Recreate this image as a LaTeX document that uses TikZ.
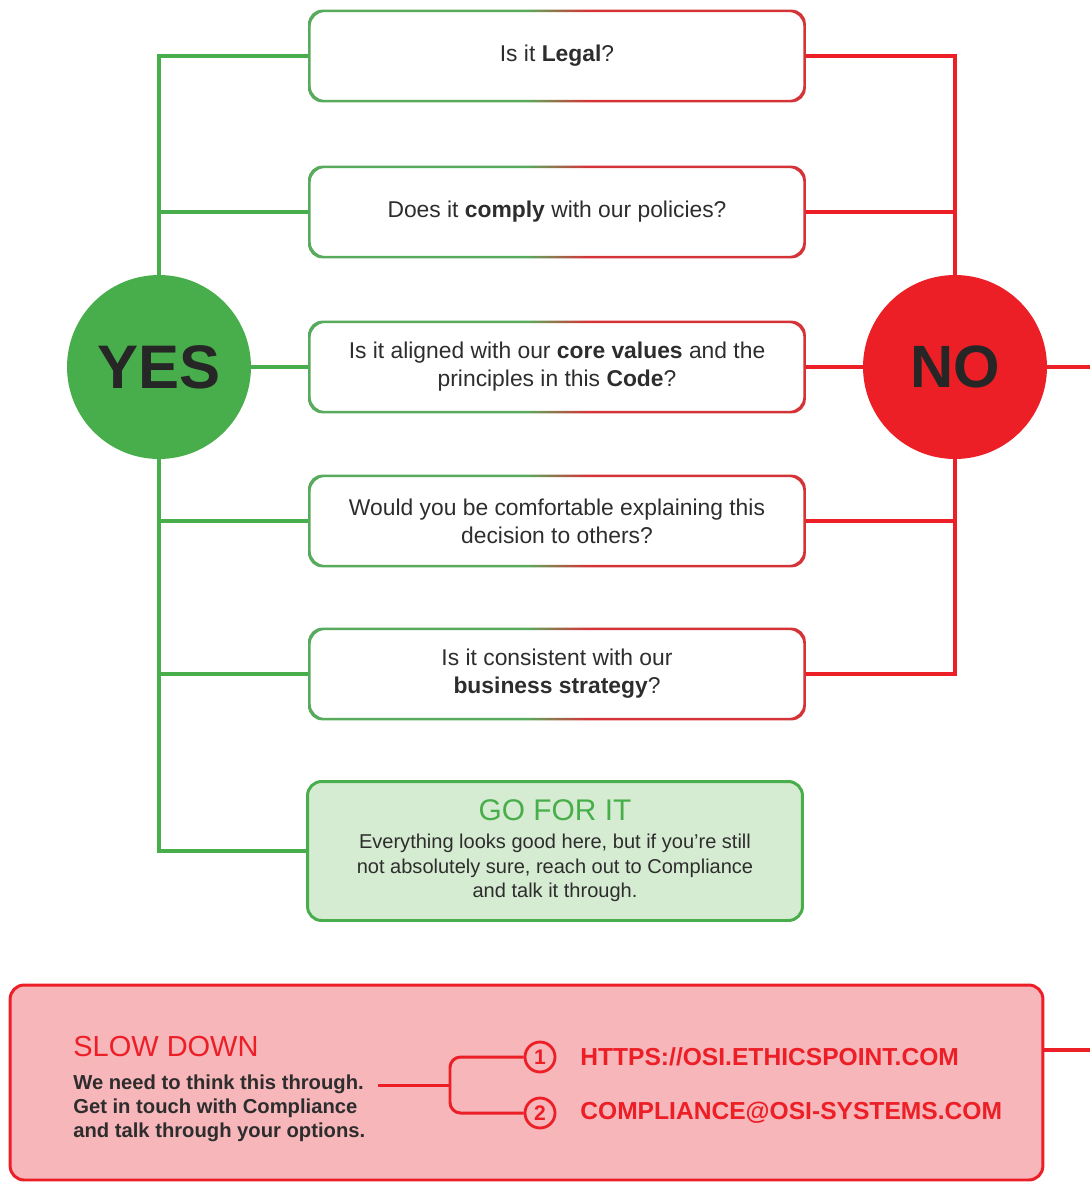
\documentclass[tikz,border=0pt]{standalone}
\usepackage{fontspec}
\setmainfont{Liberation Sans}
\usetikzlibrary{calc}
\definecolor{yesgreen}{RGB}{72,174,76}
\definecolor{nored}{RGB}{236,30,38}
\definecolor{boxgreen}{RGB}{88,170,92}
\definecolor{boxred}{RGB}{212,52,56}
\definecolor{gofill}{RGB}{214,236,210}
\definecolor{slowfill}{RGB}{246,182,186}
\definecolor{textgray}{RGB}{45,45,45}
\pgfdeclarehorizontalshading{greenred}{100bp}{color(0bp)=(boxgreen); color(47bp)=(boxgreen); color(53bp)=(boxred); color(100bp)=(boxred)}
\tikzstyle{question} = [rectangle, rounded corners=8pt, minimum width=9.94cm, minimum height=1.84cm, align=center, text=textgray, font=\fontsize{13}{15.9}\selectfont]
\tikzstyle{gobox} = [rectangle, rounded corners=8pt, minimum width=9.9cm, minimum height=2.78cm, align=center, draw=yesgreen, line width=1.7pt, fill=gofill, text=textgray, font=\fontsize{11.4}{13.9}\selectfont]
\tikzstyle{yesdot} = [circle, minimum size=3.68cm, fill=yesgreen, text=black!85, font=\fontsize{35}{35}\selectfont\bfseries]
\tikzstyle{nodot} = [circle, minimum size=3.68cm, fill=nored, text=black!85, font=\fontsize{34}{34}\selectfont\bfseries]
\tikzstyle{slowbox} = [rectangle, rounded corners=8pt, minimum width=20.66cm, minimum height=3.9cm, draw=nored, line width=1.7pt, fill=slowfill]
\tikzstyle{numdot} = [circle, minimum size=0.6cm, inner sep=0pt, draw=nored, line width=1.6pt, fill=slowfill, text=nored, font=\fontsize{12}{12}\selectfont\bfseries]
\tikzstyle{urltext} = [inner sep=0pt, text=nored, font=\fontsize{14}{14}\selectfont\bfseries]
\tikzstyle{yesline} = [yesgreen, line width=2.3pt]
\tikzstyle{noline} = [nored, line width=2.8pt]
\tikzstyle{slowline} = [nored, line width=1.7pt]
\newcommand{\gradframe}[1]{\shade[shading=greenred, even odd rule, rounded corners=8pt] (#1.south west) rectangle (#1.north east) ([shift={(1.4pt,1.4pt)}]#1.south west) rectangle ([shift={(-1.4pt,-1.4pt)}]#1.north east);}

\begin{document}
\begin{tikzpicture}[x=0.02cm, y=-0.02cm]
\useasboundingbox (0,0) rectangle (1090,1183);

% Questions
\node[question] (q1) at (557,56) {Is it \textbf{Legal}?};
\node[question] (q2) at (557,212) {Does it \textbf{comply} with our policies?};
\node[question] (q3) at (557,367) {Is it aligned with our \textbf{core values} and the\\principles in this \textbf{Code}?};
\node[question] (q4) at (557,521) {Would you be comfortable explaining this\\decision to others?};
\node[question] (q5) at (557,674) {Is it consistent with our\\\textbf{business strategy}?};
\gradframe{q1}
\gradframe{q2}
\gradframe{q3}
\gradframe{q4}
\gradframe{q5}

% Go for it
\node[gobox] (go) at (555,851) {{\fontsize{17}{20}\selectfont\color{yesgreen}GO FOR IT}\\[2pt]Everything looks good here, but if you're still\\not absolutely sure, reach out to Compliance\\and talk it through.};

% Yes / No
\node[yesdot] (yes) at (159,367) {YES};
\node[nodot] (no) at (955,367) {NO};

% Yes branches
\draw[yesline] (q1.west) -| (yes.north);
\draw[yesline] (q2.west) -- (q2.west -| yes.north);
\draw[yesline] (yes.east) -- (q3.west);
\draw[yesline] (yes.south) |- (go.west);
\draw[yesline] (q4.west) -- (q4.west -| yes.south);
\draw[yesline] (q5.west) -- (q5.west -| yes.south);

% No branches
\coordinate (noexit) at (1090,367);
\draw[noline] (q1.east) -| (no.north);
\draw[noline] (q2.east) -- (q2.east -| no.north);
\draw[noline] (q3.east) -- (no.west);
\draw[noline] (no.south) |- (q5.east);
\draw[noline] (q4.east) -- (q4.east -| no.south);
\draw[noline] (no.east) -- (noexit);

% Slow down
\node[slowbox] (slow) at (526.5,1082.5) {};
\coordinate (slowexit) at (1090,1050);
\draw[noline] (slowexit -| slow.east) -- (slowexit);
\node[anchor=west, inner sep=0pt, text=nored, font=\fontsize{16.5}{18}\selectfont] (slowtitle) at (73,1047) {SLOW DOWN};
\node[anchor=west, inner sep=0pt, align=left, text=textgray, font=\fontsize{11.5}{13.6}\selectfont\bfseries] (slowtext) at (73,1108) {We need to think this through.\\Get in touch with Compliance\\and talk through your options.};

\node[numdot] (num1) at (540,1057) {1};
\node[numdot] (num2) at (540,1113) {2};
\node[urltext, anchor=west] (url1) at (580,1057) {HTTPS://OSI.ETHICSPOINT.COM};
\node[urltext, anchor=west] (url2) at (580,1113) {COMPLIANCE@OSI-SYSTEMS.COM};

\coordinate (slowstart) at (378,1085);
\coordinate (fork) at (450,1085);
\draw[slowline] (slowstart) -- (fork);
\draw[slowline, rounded corners=6pt] (fork) |- (num1);
\draw[slowline, rounded corners=6pt] (fork) |- (num2);

\end{tikzpicture}
\end{document}
